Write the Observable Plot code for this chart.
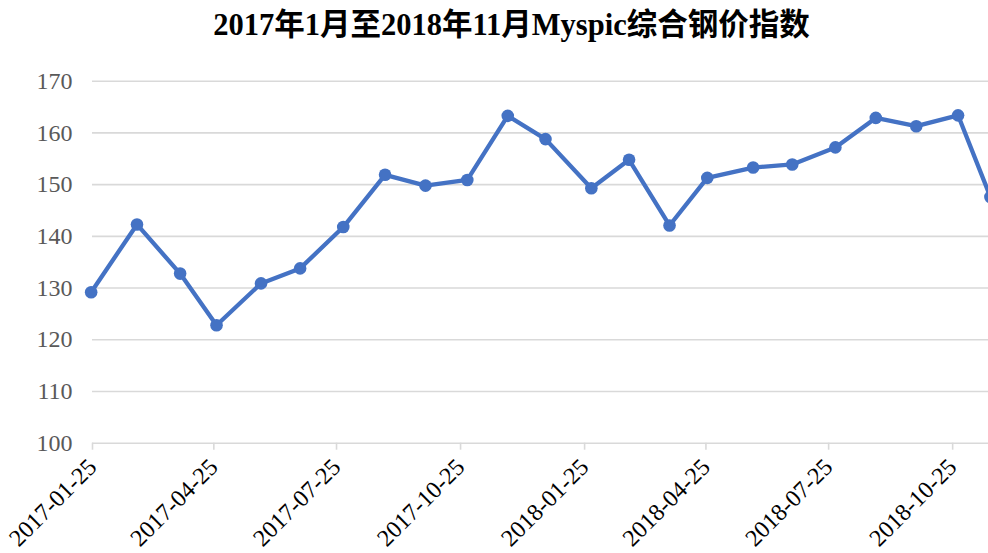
<!DOCTYPE html>
<html>
<head>
<meta charset="utf-8">
<script src="https://cdn.jsdelivr.net/npm/d3@7"></script>
<script src="https://cdn.jsdelivr.net/npm/@observablehq/plot@0.6"></script>
<style>
  html, body { margin: 0; padding: 0; background: #fff; overflow: hidden; width: 988px; height: 553px; }
  #title { height: 50px; line-height: 50px; text-align: center; font-family: "Liberation Serif", "Noto Sans CJK SC", serif; font-weight: bold; font-size: 30.5px; color: #000; width: 988px; padding-left: 35px; box-sizing: border-box; white-space: nowrap; }
  #chart svg { display: block; overflow: visible; max-width: none !important; }
</style>
</head>
<body>
<div id="title">2017年1月至2018年11月Myspic综合钢价指数</div>
<div id="chart"></div>
<script>
const dates = ["2017-01-24","2017-02-27","2017-03-31","2017-04-27","2017-05-30","2017-06-28","2017-07-30","2017-08-30","2017-09-29","2017-10-30","2017-11-29","2017-12-27","2018-01-30","2018-02-27","2018-03-29","2018-04-26","2018-05-30","2018-06-28","2018-07-30","2018-08-29","2018-09-28","2018-10-29","2018-11-22"];
const values = [129.2,142.3,132.8,122.8,130.9,133.8,141.8,151.9,149.8,150.9,163.3,158.8,149.3,154.8,142.1,151.3,153.3,153.9,157.2,162.9,161.3,163.4,147.6];
const tickLabels = ["2017-01-25","2017-04-25","2017-07-25","2017-10-25","2018-01-25","2018-04-25","2018-07-25","2018-10-25"];
const yTicks = [100,110,120,130,140,150,160,170];
const domainX = ["2017-01-25","2018-11-28"];

const parse = d3.utcParse("%Y-%m-%d");
const data = dates.map((d, i) => ({date: parse(d), value: values[i]}));

const chart = Plot.plot({
  width: 998,
  height: 503,
  marginLeft: 92,
  marginRight: 0,
  marginTop: 30.7,
  marginBottom: 110.3,
  style: {fontFamily: "'Liberation Serif', serif", background: "transparent", overflow: "visible", maxWidth: "none"},
  x: {type: "utc", domain: domainX.map(parse)},
  y: {domain: [100, 170]},
  marks: [
    Plot.gridY(yTicks, {stroke: "#d9d9d9", strokeOpacity: 1, strokeWidth: 1.6}),
    Plot.axisY(yTicks, {tickSize: 0, tickPadding: 20, fontSize: 24, fill: "#595959", label: null, tickFormat: d => String(d)}),
    Plot.axisX(tickLabels.map(parse), {tickSize: 7, tickPadding: 13, tickRotate: -45, fontSize: 24, stroke: "#d9d9d9", strokeWidth: 1.6, fill: "#000", label: null, tickFormat: d3.utcFormat("%Y-%m-%d")}),
    Plot.lineY(data, {x: "date", y: "value", stroke: "#4472C4", strokeWidth: 4.3, strokeLinejoin: "round"}),
    Plot.dot(data, {x: "date", y: "value", r: 6.3, fill: "#4472C4", stroke: "none"})
  ]
});
document.getElementById("chart").appendChild(chart);
</script>
</body>
</html>
